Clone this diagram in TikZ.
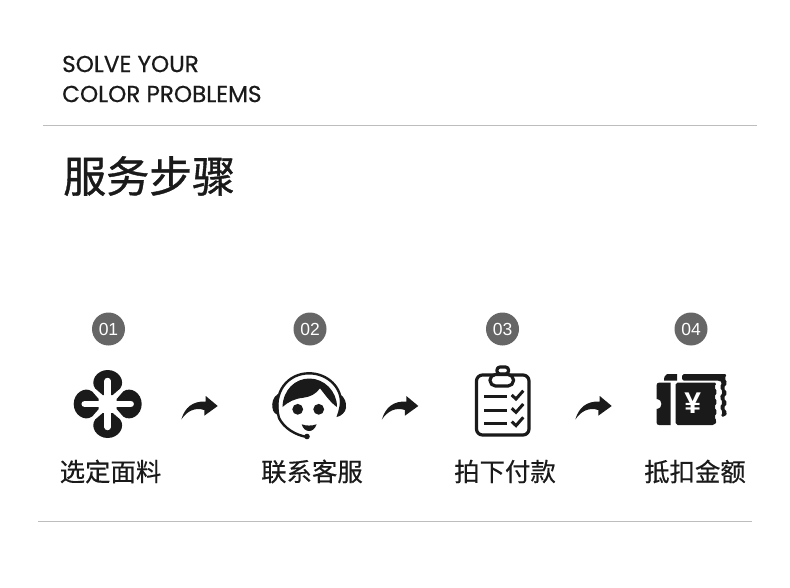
\documentclass[tikz,border=0pt]{standalone}
\usepackage{fontspec}
\setmainfont{Poppins}
\newfontfamily\headfont{Poppins}[FakeBold=0.6]
\newfontfamily\cjk{Noto Sans CJK SC}[FakeBold=0.35]
\newfontfamily\cjktitle{Noto Sans CJK SC}[FakeBold=0.9]
\newfontfamily\num{Liberation Sans}
\newfontfamily\yen{Liberation Sans}
\definecolor{ink}{HTML}{1A1A1A}
\definecolor{rulegray}{HTML}{BDBDBD}
\definecolor{badge}{HTML}{666666}
\tikzset{
  rulerline/.style={draw=rulegray,line width=1pt},
  badgenode/.style={circle,fill=badge,text=white,minimum size=33pt,inner sep=0pt,font=\num\fontsize{17.5}{17.5}\selectfont},
  stepname/.style={text=ink,inner sep=0pt,font=\cjk\fontsize{25.4}{25.4}\selectfont},
  headline/.style={text=ink,inner sep=0pt,anchor=west,font=\headfont\fontsize{23.1}{23.1}\selectfont},
  iconline/.style={draw=ink,line width=3.2pt,line cap=round,line join=round},
  flowarrow/.style={fill=ink,draw=none},
}
\newcommand{\flowshape}[1]{%
  \begin{scope}[shift={(#1,0)}]
    \path[flowarrow] (181.3,419.5) .. controls (185,407) and (193,401) .. (205.7,401.5)
      -- (205.7,396) -- (217.7,406) -- (204.3,415.7) -- (204.3,410)
      .. controls (195,407) and (187,411) .. (181.3,419.5) -- cycle;
  \end{scope}}
\newcommand{\petal}[1]{%
  \begin{scope}[shift={(107.7,404)},rotate=#1]
    \fill[ink] (-5,-9) -- (-12.5,-15.5) .. controls (-18,-23) and (-11,-34) .. (0,-34)
      .. controls (11,-34) and (18,-23) .. (12.5,-15.5) -- (5,-9) -- cycle;
    \draw[white,line width=6.5pt,line cap=round] (0,-5) -- (0,-23);
  \end{scope}}
\begin{document}
\begin{tikzpicture}[x=1pt,y=-1pt]
\useasboundingbox[fill=white] (0,0) rectangle (790,588);
% header
\node[headline] (h1) at (62,64) {SOLVE YOUR};
\node[headline] (h2) at (62,94) {COLOR PROBLEMS};
\draw[rulerline] (43,125.5) -- (757,125.5);
\node[text=ink,inner sep=0pt,anchor=west,font=\cjktitle\fontsize{43}{43}\selectfont] (title) at (63,176) {服务步骤};
\draw[rulerline] (38,521) -- (752,521);
% badges
\node[badgenode] (b1) at (108.5,329) {01};
\node[badgenode] (b2) at (310,329) {02};
\node[badgenode] (b3) at (502.5,329) {03};
\node[badgenode] (b4) at (691,329) {04};
% labels
\node[stepname] (s1) at (110.5,471.5) {选定面料};
\node[stepname] (s2) at (312,471.5) {联系客服};
\node[stepname] (s3) at (505,471.5) {拍下付款};
\node[stepname] (s4) at (695,471.5) {抵扣金额};
% arrows
\flowshape{0}\flowshape{200.6}\flowshape{394}
% icon 1
\petal{0}\petal{90}\petal{180}\petal{270}
% icon 2
\draw[ink,line width=2.4pt,line cap=round] (279,418) .. controls (272,392) and (288,373.3) .. (309,373.3)
  .. controls (328,373.3) and (342,388) .. (341,404);
\draw[ink,line width=2.4pt,line cap=round] (279,418) .. controls (284,428) and (295,435) .. (307,437);
\fill[ink] (307,436.5) circle (2.8);
\fill[ink] (282.5,407) .. controls (283,390) and (295,378.5) .. (309.3,378.5)
  .. controls (324,378.5) and (337,391) .. (337,407)
  .. controls (331,403) and (326,396) .. (320,388.3)
  .. controls (316,394) and (310,397) .. (303,397.8)
  .. controls (295,398.5) and (288,402) .. (282.5,407) -- cycle;
\fill[ink] (278,394) .. controls (273,397) and (271.5,403) .. (272.5,408)
  .. controls (273,412) and (275,414) .. (278.5,415) -- cycle;
\fill[ink] (339.5,394) .. controls (345,397) and (346.5,403) .. (346,408)
  .. controls (345.5,412) and (341,416.5) .. (336.5,417)
  .. controls (339,410) and (341,402) .. (339.5,394) -- cycle;
\fill[ink] (297.7,409.3) circle (5.4);
\fill[ink] (318.7,409.3) circle (5.4);
\fill[ink] (301.7,424.3) .. controls (306,426) and (312,426) .. (316.7,424.3)
  .. controls (315,429) and (312,431) .. (309.3,431)
  .. controls (306,431) and (303,429) .. (301.7,424.3) -- cycle;
% icon 3
\draw[iconline,rounded corners=6pt] (476.5,375) rectangle (529,435);
\draw[iconline,fill=white,rounded corners=3pt] (497,374) rectangle (508.5,367);
\draw[iconline,fill=white,rounded corners=5.5pt] (490,374.5) rectangle (513.5,386);
\foreach \yy in {396.7,410,423.3}{
  \draw[iconline,line width=3pt,line cap=butt] (484.3,\yy) -- (506.7,\yy);
  \draw[iconline,line width=3pt,line cap=butt,line join=miter] (511.7,\yy-1.7) -- (516,\yy+2.3) -- (523.3,\yy-6);
}
% icon 4
\fill[ink] (667,374) -- (677,374) -- (677,380.7) -- (664,380.7) .. controls (664,377) and (665,375) .. (667,374) -- cycle;
\fill[ink,rounded corners=1.8pt] (682,374) -- (727,374) -- (724.5,378.5) -- (727.5,383) -- (723.5,388) -- (727.5,393) -- (723.5,398) -- (727.5,403) -- (723.5,408) -- (727.5,412.5) -- (725,416.7)
  -- (720.5,416.7) -- (723,412) -- (719.5,407.5) -- (723,402.5) -- (719.5,397.5) -- (723,392) -- (719.5,387) -- (722.5,382.5) -- (720,380.7) -- (682,380.7) -- cycle;
\fill[ink] (659,382.7) -- (670.7,382.7) -- (670.7,425) -- (659,425) .. controls (657.5,425) and (656.7,424) .. (656.7,423)
  -- (656.7,409) .. controls (660,408.5) and (661.5,406.5) .. (661.5,404) .. controls (661.5,401.5) and (660,399.5) .. (656.7,399)
  -- (656.7,385) .. controls (656.7,383.7) and (657.5,382.7) .. (659,382.7) -- cycle;
\fill[ink,rounded corners=1.8pt] (675.7,382.7) -- (717,382.7) -- (714,387) -- (717.5,392) -- (714,397) -- (717.5,402) -- (714,407) -- (717.5,412) -- (714,417) -- (717,421) -- (714.5,425) -- (675.7,425) -- cycle;
\node[text=white,inner sep=0pt,font=\yen\bfseries\fontsize{30}{30}\selectfont] (yn) at (692.7,403.3) {¥};
\end{tikzpicture}
\end{document}
